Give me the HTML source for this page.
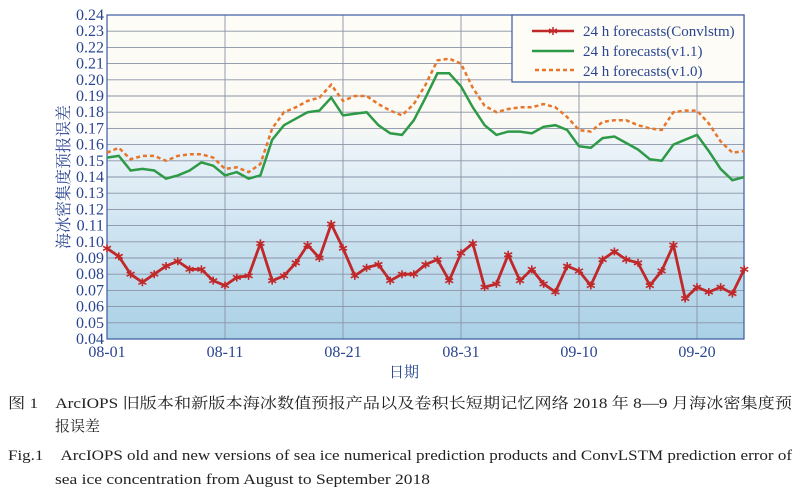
<!DOCTYPE html>
<html><head><meta charset="utf-8"><style>
body{margin:0;background:#fff;width:800px;height:494px;overflow:hidden}
svg text{font-family:"Liberation Serif","Noto Serif CJK SC",serif}
</style></head><body>
<svg id="s" width="800" height="494" xmlns="http://www.w3.org/2000/svg">
<defs>
<linearGradient id="bg" x1="0" y1="0" x2="0" y2="1">
<stop offset="0" stop-color="#fdfcf6"/>
<stop offset="0.33" stop-color="#fbfaf4"/>
<stop offset="0.42" stop-color="#e9f2f8"/>
<stop offset="1" stop-color="#a9d0e6"/>
</linearGradient>
</defs>
<rect x="107" y="15" width="637" height="324" fill="url(#bg)"/>
<g id="grid"></g>
<rect x="107" y="15" width="637" height="324" fill="none" stroke="#3a5aa0" stroke-width="1.2"/>
<g id="series"></g>
<rect x="512" y="15" width="232" height="67" fill="#fdfcf6" stroke="#3a5aa0" stroke-width="1.2"/>
<line x1="532" y1="31" x2="574" y2="31" stroke="#c0282a" stroke-width="2.5"/>
<path d="M553 27 L553 35 M549 29 L557 33 M549 33 L557 29" stroke="#c0282a" stroke-width="1.5"/>
<line x1="532" y1="51" x2="574" y2="51" stroke="#2e9a48" stroke-width="2.5"/>
<line x1="535" y1="70" x2="574" y2="70" stroke="#e8762a" stroke-width="2.5" stroke-dasharray="4,3"/>
<g font-size="15" fill="#2a4590">
<text x="583" y="36">24 h forecasts(Convlstm)</text>
<text x="583" y="56">24 h forecasts(v1.1)</text>
<text x="583" y="76">24 h forecasts(v1.0)</text>
</g>
<g id="lab" font-size="16" fill="#2a4590"></g>
<text transform="translate(69,177) rotate(-90)" text-anchor="middle" font-size="16" fill="#2a4590">海冰密集度预报误差</text>
<text x="404" y="377" text-anchor="middle" font-size="15" fill="#2a4590">日期</text>
<g font-size="15" fill="#222">
<text x="8" y="408" textLength="784" lengthAdjust="spacingAndGlyphs">图 1　ArcIOPS 旧版本和新版本海冰数值预报产品以及卷积长短期记忆网络 2018 年 8—9 月海冰密集度预</text>
<text x="55" y="431">报误差</text>
<text x="8" y="460" textLength="784" lengthAdjust="spacingAndGlyphs">Fig.1　ArcIOPS old and new versions of sea ice numerical prediction products and ConvLSTM prediction error of</text>
<text x="55" y="484" textLength="375" lengthAdjust="spacingAndGlyphs">sea ice concentration from August to September 2018</text>
</g>
</svg>
<script>
var NS="http://www.w3.org/2000/svg";
function el(p,t,a){var e=document.createElementNS(NS,t);for(var k in a)e.setAttribute(k,a[k]);p.appendChild(e);return e;}
var L=107,R=744,T=15,B=339,dx=11.8;
function Y(v){return T+(0.24-v)*1620;}
function X(i){return L+i*dx;}
var g=document.getElementById('grid'),lab=document.getElementById('lab');
for(var k=0;k<=20;k++){var v=0.04+k*0.01,y=Y(v);
 if(k>0&&k<20)el(g,'line',{x1:L,x2:R,y1:y,y2:y,stroke:'#8a93a6','stroke-width':0.9});
 var t=el(lab,'text',{x:104,y:y+5,'text-anchor':'end'});t.textContent=v.toFixed(2);}
var xl=['08-01','08-11','08-21','08-31','09-10','09-20'];
for(var j=0;j<6;j++){var x=X(j*10);
 if(j>0)el(g,'line',{x1:x,x2:x,y1:T,y2:B,stroke:'#8a93a6','stroke-width':0.9});
 var t=el(lab,'text',{x:x,y:357,'text-anchor':'middle'});t.textContent=xl[j];}
var red=[.096,.091,.080,.075,.080,.085,.088,.083,.083,.076,.073,.078,.079,.099,.076,.079,.087,.098,.090,.111,.096,.079,.084,.086,.076,.080,.080,.086,.089,.076,.093,.099,.072,.074,.092,.076,.083,.074,.069,.085,.082,.073,.089,.094,.089,.087,.073,.082,.098,.065,.072,.069,.072,.068,.083];
var grn=[.152,.153,.144,.145,.144,.139,.141,.144,.149,.147,.141,.143,.139,.141,.163,.172,.176,.180,.181,.189,.178,.179,.180,.172,.167,.166,.175,.189,.204,.204,.196,.183,.172,.166,.168,.168,.167,.171,.172,.169,.159,.158,.164,.165,.161,.157,.151,.150,.160,.163,.166,.156,.145,.138,.140];
var org=[.155,.158,.151,.153,.153,.150,.153,.154,.154,.152,.145,.146,.143,.148,.170,.180,.183,.187,.189,.197,.187,.190,.190,.185,.181,.178,.185,.197,.212,.213,.210,.195,.184,.180,.182,.183,.183,.185,.183,.177,.169,.168,.174,.175,.175,.172,.170,.169,.180,.181,.181,.173,.162,.155,.156];
function pts(a){return a.map(function(v,i){return X(i).toFixed(1)+','+Y(v).toFixed(1)}).join(' ');}
var s=document.getElementById('series');
el(s,'polyline',{points:pts(org),fill:'none',stroke:'#e8762a','stroke-width':2.5,'stroke-dasharray':'4,3'});
el(s,'polyline',{points:pts(grn),fill:'none',stroke:'#2e9a48','stroke-width':2.5});
el(s,'polyline',{points:pts(red),fill:'none',stroke:'#c0282a','stroke-width':2.8});
red.forEach(function(v,i){var x=X(i),y=Y(v);
 el(s,'path',{d:'M'+x+' '+(y-4)+'L'+x+' '+(y+4)+'M'+(x-4)+' '+(y-2)+'L'+(x+4)+' '+(y+2)+'M'+(x-4)+' '+(y+2)+'L'+(x+4)+' '+(y-2),stroke:'#c0282a','stroke-width':1.6});});
</script>
</body></html>
